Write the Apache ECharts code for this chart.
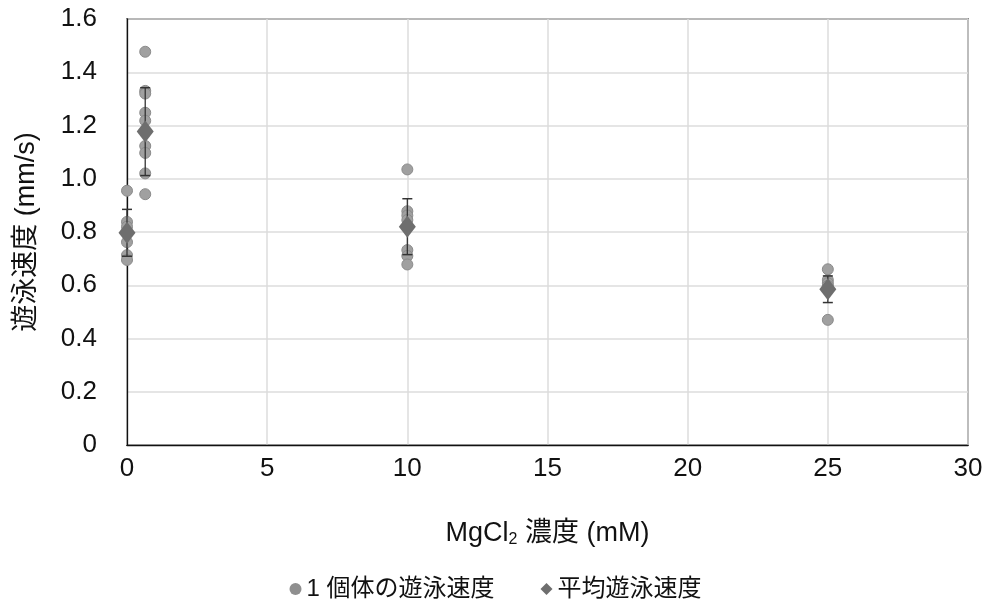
<!DOCTYPE html>
<html><head><meta charset="utf-8">
<script src="https://cdn.jsdelivr.net/npm/echarts@6/dist/echarts.min.js"></script>
<style>html,body{margin:0;padding:0;background:#fff}#c{width:991px;height:607px}</style>
</head><body><div id="c"></div>
<script>
const indivX = [0,0,0,0,0,0, 0.65,0.65,0.65,0.65,0.65,0.65,0.65,0.65,0.65, 10,10,10,10,10,10,10, 25,25,25,25,25];
const indivY = [0.955,0.838,0.82,0.762,0.713,0.695, 1.477,1.33,1.32,1.248,1.218,1.123,1.097,1.02,0.942, 1.035,0.878,0.862,0.845,0.732,0.71,0.678, 0.66,0.62,0.608,0.598,0.47];
const meanX = [0, 0.65, 10, 25];
const meanY = [0.797, 1.177, 0.82, 0.585];
const errY = [0.088, 0.165, 0.105, 0.05];
const xTicks = [0,5,10,15,20,25,30];
const yTicks = [0,0.2,0.4,0.6,0.8,1.0,1.2,1.4,1.6];
const legendNames = ['1 個体の遊泳速度','平均遊泳速度'];

const FONT = '"Liberation Sans", "Noto Sans CJK JP", sans-serif';
const chart = echarts.init(document.getElementById('c'));
chart.setOption({
  animation:false,
  textStyle:{fontFamily:FONT},
  grid:{left:127,right:23,top:19,bottom:162,show:true,borderColor:'#111',borderWidth:1.3,containLabel:false},
  xAxis:{type:'value',min:0,max:30,interval:5,
    name:'{a|MgCl}{s|2}{a| 濃度 (mM)}',nameLocation:'middle',nameGap:74,
    nameTextStyle:{rich:{a:{fontSize:27,color:'#111',fontFamily:FONT},s:{fontSize:16,color:'#111',verticalAlign:'bottom',padding:[13,0,0,0],fontFamily:FONT}}},
    axisLine:{show:true,lineStyle:{color:'#111',width:1.3}},axisTick:{show:false},
    axisLabel:{fontSize:26,color:'#111',margin:11,formatter:v=>xTicks.includes(v)?String(v):''},
    splitLine:{show:true,lineStyle:{color:'#dcdcdc',width:1.5}}},
  yAxis:{type:'value',min:0,max:1.6,interval:0.2,
    name:'遊泳速度 (mm/s)',nameLocation:'middle',nameGap:87,
    nameTextStyle:{fontSize:27,color:'#111'},
    axisLine:{show:true,lineStyle:{color:'#111',width:1.3}},axisTick:{show:false},
    axisLabel:{fontSize:26,color:'#111',margin:30,formatter:v=>{const t=yTicks.find(k=>Math.abs(k-v)<1e-6);return t===undefined?'':(t===0?'0':t.toFixed(1));}},
    splitLine:{show:true,lineStyle:{color:'#dcdcdc',width:1.5}}},
  legend:{top:572,left:'center',itemGap:46,itemWidth:12,itemHeight:12,
    textStyle:{fontSize:24,color:'#111'},
    data:[{name:legendNames[0],icon:'circle',itemStyle:{color:'#8f8f8f',borderWidth:0}},{name:legendNames[1],icon:'diamond',itemStyle:{color:'#6e6e6e',borderWidth:0}}]},
  series:[
    {name:legendNames[0],type:'scatter',symbol:'circle',symbolSize:11,z:3,
      itemStyle:{color:'#a0a0a0',borderColor:'#8a8a8a',borderWidth:1,opacity:1},
      data:indivX.map((x,i)=>[x,indivY[i]])},
    {name:'err',type:'custom',z:4,silent:true,
      renderItem:(params,api)=>{
        const x=api.value(0),m=api.value(1),e=api.value(2);
        const top=api.coord([x,m+e]),bot=api.coord([x,m-e]);
        const w=5;
        return {type:'group',children:[
          {type:'line',shape:{x1:top[0],y1:top[1],x2:bot[0],y2:bot[1]},style:{stroke:'#333',lineWidth:1.3}},
          {type:'line',shape:{x1:top[0]-w,y1:top[1],x2:top[0]+w,y2:top[1]},style:{stroke:'#333',lineWidth:1.5}},
          {type:'line',shape:{x1:bot[0]-w,y1:bot[1],x2:bot[0]+w,y2:bot[1]},style:{stroke:'#333',lineWidth:1.5}}
        ]};
      },
      data:meanX.map((x,i)=>[x,meanY[i],errY[i]])},
    {name:legendNames[1],type:'scatter',symbol:'diamond',symbolSize:[17,22],z:5,
      itemStyle:{color:'#6e6e6e',opacity:1},
      data:meanX.map((x,i)=>[x,meanY[i]])}
  ]
});
</script></body></html>
